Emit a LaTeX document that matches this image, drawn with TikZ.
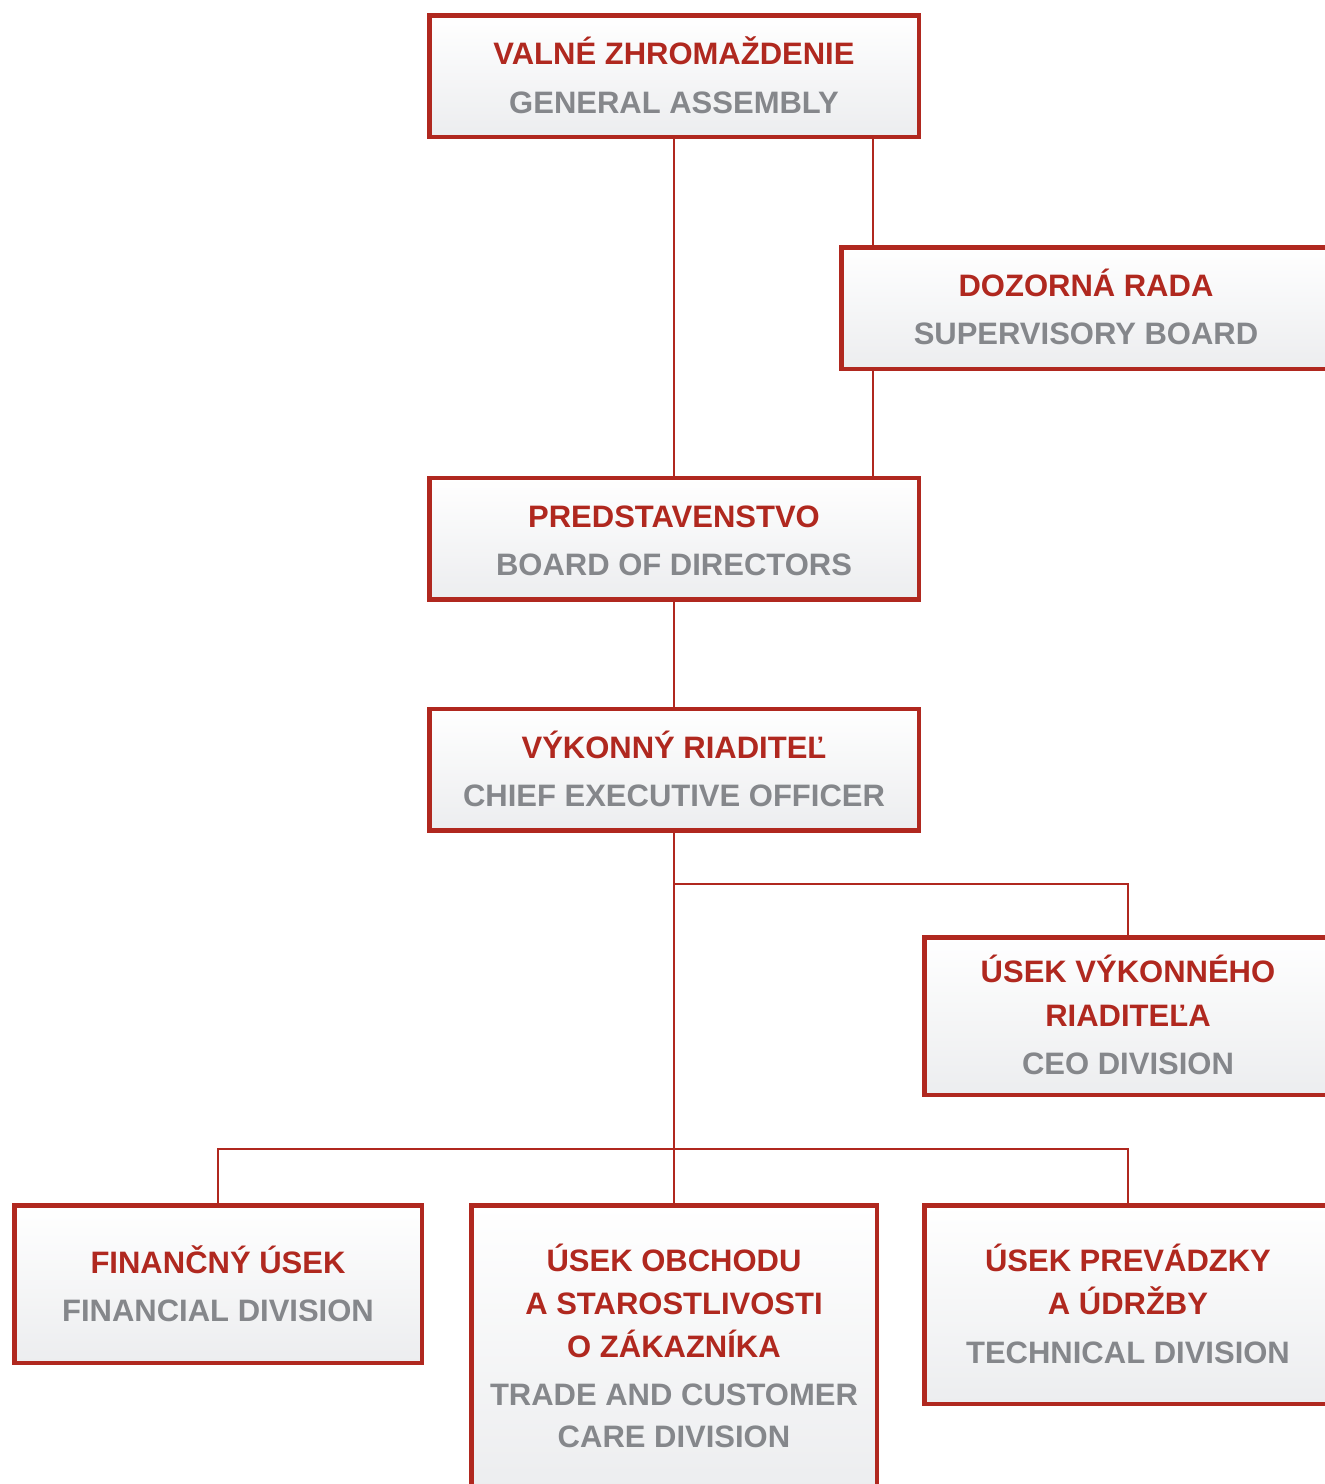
\documentclass[tikz,border=0pt]{standalone}
\usepackage{fontspec}
\setmainfont{Liberation Sans}
\definecolor{bred}{RGB}{176,40,31}
\definecolor{tgray}{RGB}{133,135,139}
\definecolor{boxbot}{RGB}{236,237,239}
\begin{document}
\begin{tikzpicture}[x=1pt,y=-1pt,
  orgbox/.style={draw=bred, line width=4.5pt, rectangle, inner sep=0pt,
    top color=white, middle color=white, bottom color=boxbot},
  rt/.style={text=bred, font=\fontsize{31}{37}\selectfont\bfseries, text height=22pt, text depth=0pt, inner sep=0pt},
  gt/.style={text=tgray, font=\fontsize{31}{37}\selectfont\bfseries, text height=22pt, text depth=0pt, inner sep=0pt},
  conn/.style={draw=bred, line width=2.5pt}]
\useasboundingbox (0,0) rectangle (1325,1484);
\clip (0,0) rectangle (1325,1484);
% boxes
\node[orgbox, minimum width=489.5pt, minimum height=121.5pt] (ga) at (674,76) {};
\node[orgbox, minimum width=489.5pt, minimum height=121.5pt] (sb) at (1086,308) {};
\node[orgbox, minimum width=489.5pt, minimum height=121.5pt] (bod) at (674,538.5) {};
\node[orgbox, minimum width=489.5pt, minimum height=121.5pt] (ceo) at (674,769.5) {};
\node[orgbox, minimum width=407.5pt, minimum height=157.5pt] (cdiv) at (1128,1016) {};
\node[orgbox, minimum width=407.5pt, minimum height=157.5pt] (fin) at (218,1284) {};
\node[orgbox, minimum width=405.5pt, minimum height=285.5pt] (tc) at (674,1348) {};
\node[orgbox, minimum width=407.5pt, minimum height=198.5pt] (tech) at (1128,1304.5) {};
% connectors
\coordinate (k1) at (873,0);
\coordinate (j1) at (674,884);
\coordinate (j2) at (674,1149);
\draw[conn] (ga) -- (bod);
\draw[conn] (ga.south -| k1) -- (sb.north -| k1);
\draw[conn] (sb.south -| k1) -- (bod.north -| k1);
\draw[conn] (bod) -- (ceo);
\draw[conn] (ceo) -- (tc);
\draw[conn] (j1) -| (cdiv.north);
\draw[conn] (fin.north) |- (j2) -| (tech.north);
% texts
\node[rt] (ga1) at (674,53) {VALNÉ ZHROMAŽDENIE};
\node[gt] (ga2) at (674,102) {GENERAL ASSEMBLY};
\node[rt] (sb1) at (1086,285) {DOZORNÁ RADA};
\node[gt] (sb2) at (1086,333) {SUPERVISORY BOARD};
\node[rt] (bod1) at (674,516) {PREDSTAVENSTVO};
\node[gt] (bod2) at (674,564) {BOARD OF DIRECTORS};
\node[rt] (ceo1) at (674,747) {VÝKONNÝ RIADITEĽ};
\node[gt] (ceo2) at (674,795) {CHIEF EXECUTIVE OFFICER};
\node[rt] (cd1) at (1128,971) {ÚSEK VÝKONNÉHO};
\node[rt] (cd2) at (1128,1015) {RIADITEĽA};
\node[gt] (cd3) at (1128,1063) {CEO DIVISION};
\node[rt] (fi1) at (218,1262) {FINANČNÝ ÚSEK};
\node[gt] (fi2) at (218,1310) {FINANCIAL DIVISION};
\node[rt] (tc1) at (674,1260) {ÚSEK OBCHODU};
\node[rt] (tc2) at (674,1303) {A STAROSTLIVOSTI};
\node[rt] (tc3) at (674,1346) {O ZÁKAZNÍKA};
\node[gt] (tc4) at (674,1394) {TRADE AND CUSTOMER};
\node[gt] (tc5) at (674,1436) {CARE DIVISION};
\node[rt] (te1) at (1128,1260) {ÚSEK PREVÁDZKY};
\node[rt] (te2) at (1128,1303) {A ÚDRŽBY};
\node[gt] (te3) at (1128,1352) {TECHNICAL DIVISION};
\end{tikzpicture}
\end{document}
